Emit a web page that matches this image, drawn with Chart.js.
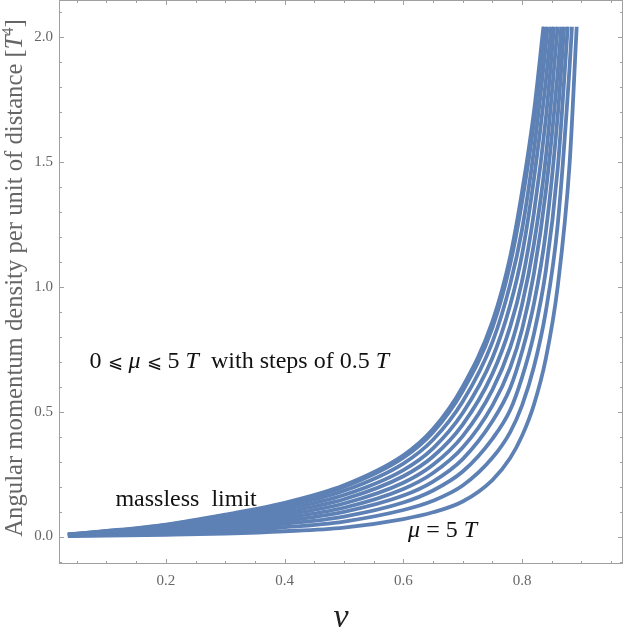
<!DOCTYPE html>
<html>
<head>
<meta charset="utf-8">
<script src="https://cdn.jsdelivr.net/npm/chart.js@4.4.1/dist/chart.umd.min.js"></script>
<style>
  html, body { margin: 0; padding: 0; background: #fff; }
  #wrap { position: relative; width: 625px; height: 642px; }
</style>
</head>
<body>
<div id="wrap"><canvas id="chart"></canvas></div>
<script>
// velocity grid shared by all the curves
const vGrid = [0.035, 0.1, 0.2, 0.3, 0.4, 0.5, 0.6, 0.65, 0.7, 0.75, 0.78, 0.8, 0.82, 0.84, 0.86, 0.88];

// one array per mass, mu = 0 ... 5 T in steps of 0.5 T (null = already past the top of the plot)
const mu00 = [0.008, 0.022,  0.048, 0.088, 0.135, 0.205, 0.325, 0.430, 0.600, 0.860, 1.120, 1.380, 1.700, null,  null,  null];
const mu05 = [0.008, 0.021,  0.046, 0.085, 0.130, 0.198, 0.315, 0.417, 0.582, 0.835, 1.090, 1.340, 1.658, null,  null,  null];
const mu10 = [0.007, 0.020,  0.043, 0.078, 0.120, 0.183, 0.292, 0.387, 0.540, 0.778, 1.010, 1.229, 1.547, 1.966, null,  null];
const mu15 = [0.007, 0.018,  0.039, 0.071, 0.109, 0.166, 0.266, 0.353, 0.494, 0.714, 0.926, 1.129, 1.432, 1.823, null,  null];
const mu20 = [0.006, 0.016,  0.034, 0.063, 0.097, 0.149, 0.241, 0.320, 0.448, 0.651, 0.840, 1.023, 1.296, 1.672, null,  null];
const mu25 = [0.005, 0.014,  0.030, 0.055, 0.086, 0.132, 0.215, 0.287, 0.402, 0.587, 0.757, 0.928, 1.171, 1.517, null,  null];
const mu30 = [0.005, 0.012,  0.026, 0.048, 0.075, 0.115, 0.190, 0.254, 0.356, 0.524, 0.676, 0.829, 1.053, 1.381, 1.857, null];
const mu35 = [0.004, 0.010,  0.022, 0.040, 0.063, 0.099, 0.164, 0.220, 0.310, 0.461, 0.594, 0.740, 0.932, 1.219, 1.683, null];
const mu40 = [0.004, 0.008,  0.018, 0.032, 0.051, 0.080, 0.136, 0.184, 0.260, 0.391, 0.506, 0.637, 0.811, 1.063, 1.472, null];
const mu45 = [0.003, 0.006,  0.012, 0.023, 0.037, 0.060, 0.106, 0.143, 0.204, 0.315, 0.418, 0.525, 0.679, 0.901, 1.247, 1.877];
const mu50 = [0.002, 0.0035, 0.007, 0.012, 0.021, 0.036, 0.070, 0.097, 0.140, 0.226, 0.314, 0.403, 0.528, 0.712, 1.000, 1.490];
const curves = [mu00, mu05, mu10, mu15, mu20, mu25, mu30, mu35, mu40, mu45, mu50];

// where every curve is cut at the top value
const yTop = 2.04;
const vTop = [0.836, 0.838, 0.843, 0.849, 0.854, 0.860, 0.866, 0.871, 0.877, 0.884, 0.892];

// ticks
const xTicks = [0.2, 0.4, 0.6, 0.8];
const yTicks = [0.0, 0.5, 1.0, 1.5, 2.0];
const xMinor = [0.05, 0.1, 0.15, 0.25, 0.3, 0.35, 0.45, 0.5, 0.55, 0.65, 0.7, 0.75, 0.85, 0.9, 0.95];
const yMinor = [-0.1, 0.1, 0.2, 0.3, 0.4, 0.6, 0.7, 0.8, 0.9, 1.1, 1.2, 1.3, 1.4, 1.6, 1.7, 1.8, 1.9, 2.1];

const SERIF = '"Liberation Serif", "DejaVu Serif", serif';
const LINE = '#5e81b5';
const FRAME = '#a0a0a0';

const datasets = curves.map(function(vals, k){
  const pts = [];
  for (let i = 0; i < vGrid.length; i++){
    if (vals[i] !== null) pts.push({x: vGrid[i], y: vals[i]});
  }
  pts.push({x: vTop[k], y: yTop});
  return {
    data: pts,
    borderColor: LINE,
    borderWidth: 3.8,
    pointRadius: 0,
    fill: false,
    cubicInterpolationMode: 'monotone'
  };
});

// text made of pieces in different styles: [text, style, size factor, dy]
function drawRich(ctx, parts, x, y, size){
  let cx = x;
  parts.forEach(function(p){
    ctx.font = (p[1] || '') + ' ' + size * (p[2] || 1) + 'px ' + SERIF;
    ctx.fillText(p[0], cx, y + (p[3] || 0));
    cx += ctx.measureText(p[0]).width;
  });
}
function richWidth(ctx, parts, size){
  let w = 0;
  parts.forEach(function(p){
    ctx.font = (p[1] || '') + ' ' + size * (p[2] || 1) + 'px ' + SERIF;
    w += ctx.measureText(p[0]).width;
  });
  return w;
}

const frameAndText = {
  id: 'frameAndText',
  afterDraw(chart){
    const {ctx, chartArea: a, scales: {x, y}} = chart;
    ctx.save();
    // frame
    ctx.strokeStyle = FRAME;
    ctx.lineWidth = 1;
    ctx.strokeRect(a.left + 0.5, a.top + 0.5, a.right - a.left - 1, a.bottom - a.top - 1);
    // inward ticks on all four sides
    ctx.beginPath();
    function xt(v, len){
      const px = Math.round(x.getPixelForValue(v)) + 0.5;
      ctx.moveTo(px, a.bottom); ctx.lineTo(px, a.bottom - len);
      ctx.moveTo(px, a.top); ctx.lineTo(px, a.top + len);
    }
    function yt(v, len){
      const py = Math.round(y.getPixelForValue(v)) + 0.5;
      ctx.moveTo(a.left, py); ctx.lineTo(a.left + len, py);
      ctx.moveTo(a.right, py); ctx.lineTo(a.right - len, py);
    }
    xTicks.forEach(v => xt(v, 5));
    xMinor.forEach(v => xt(v, 3));
    yTicks.forEach(v => yt(v, 5));
    yMinor.forEach(v => yt(v, 3));
    ctx.stroke();

    // annotations
    ctx.fillStyle = '#111';
    ctx.textBaseline = 'alphabetic';
    ctx.textAlign = 'left';
    drawRich(ctx, [['0 '], ['\u2A7D', '', 0.75], [' '], ['\u03BC', 'italic'], [' '], ['\u2A7D', '', 0.75],
                   [' 5 '], ['T', 'italic'], ['  with steps of 0.5 '], ['T', 'italic']],
             x.getPixelForValue(0.0715), y.getPixelForValue(0.675), 24);
    drawRich(ctx, [['massless  limit']], x.getPixelForValue(0.115), y.getPixelForValue(0.123), 24);
    drawRich(ctx, [['\u03BC', 'italic'], [' = 5 '], ['T', 'italic']],
             x.getPixelForValue(0.608), y.getPixelForValue(0.0), 24);

    // axis titles
    ctx.fillStyle = '#222';
    ctx.font = 'italic 34px ' + SERIF;
    ctx.textAlign = 'center';
    ctx.fillText('v', (a.left + a.right) / 2, 627);

    const yParts = [['Angular momentum density per unit of distance ['], ['T', 'italic'], ['4', '', 0.65, -9], [']']];
    ctx.textAlign = 'left';
    ctx.fillStyle = '#666';
    ctx.translate(21.5, (a.top + a.bottom) / 2 - 4);
    ctx.rotate(-Math.PI / 2);
    drawRich(ctx, yParts, -richWidth(ctx, yParts, 24.7) / 2, 0, 24.7);
    ctx.restore();
  }
};

new Chart(document.getElementById('chart'), {
  type: 'line',
  data: { datasets: datasets },
  plugins: [frameAndText],
  options: {
    responsive: true,
    maintainAspectRatio: false,
    animation: false,
    layout: { padding: { top: 0, right: 2, bottom: 0, left: 0 } },
    plugins: { legend: { display: false }, tooltip: { enabled: false } },
    scales: {
      x: {
        type: 'linear',
        min: 0.02,
        max: 0.97,
        afterFit: s => { s.height = 78; s.paddingLeft = 0; s.paddingRight = 0; },
        afterBuildTicks: s => { s.ticks = xTicks.map(v => ({value: v})); },
        grid: { display: false, drawTicks: false },
        border: { display: false },
        ticks: {
          color: '#666',
          padding: 8,
          font: { family: SERIF, size: 15 },
          callback: v => v.toFixed(1)
        }
      },
      y: {
        type: 'linear',
        min: -0.11,
        max: 2.147,
        afterFit: s => { s.width = 59; s.paddingTop = 0; s.paddingBottom = 0; },
        afterBuildTicks: s => { s.ticks = yTicks.map(v => ({value: v})); },
        grid: { display: false, drawTicks: false },
        border: { display: false },
        ticks: {
          color: '#666',
          padding: 6,
          font: { family: SERIF, size: 15 },
          callback: v => v.toFixed(1)
        }
      }
    }
  }
});
</script>
</body>
</html>
